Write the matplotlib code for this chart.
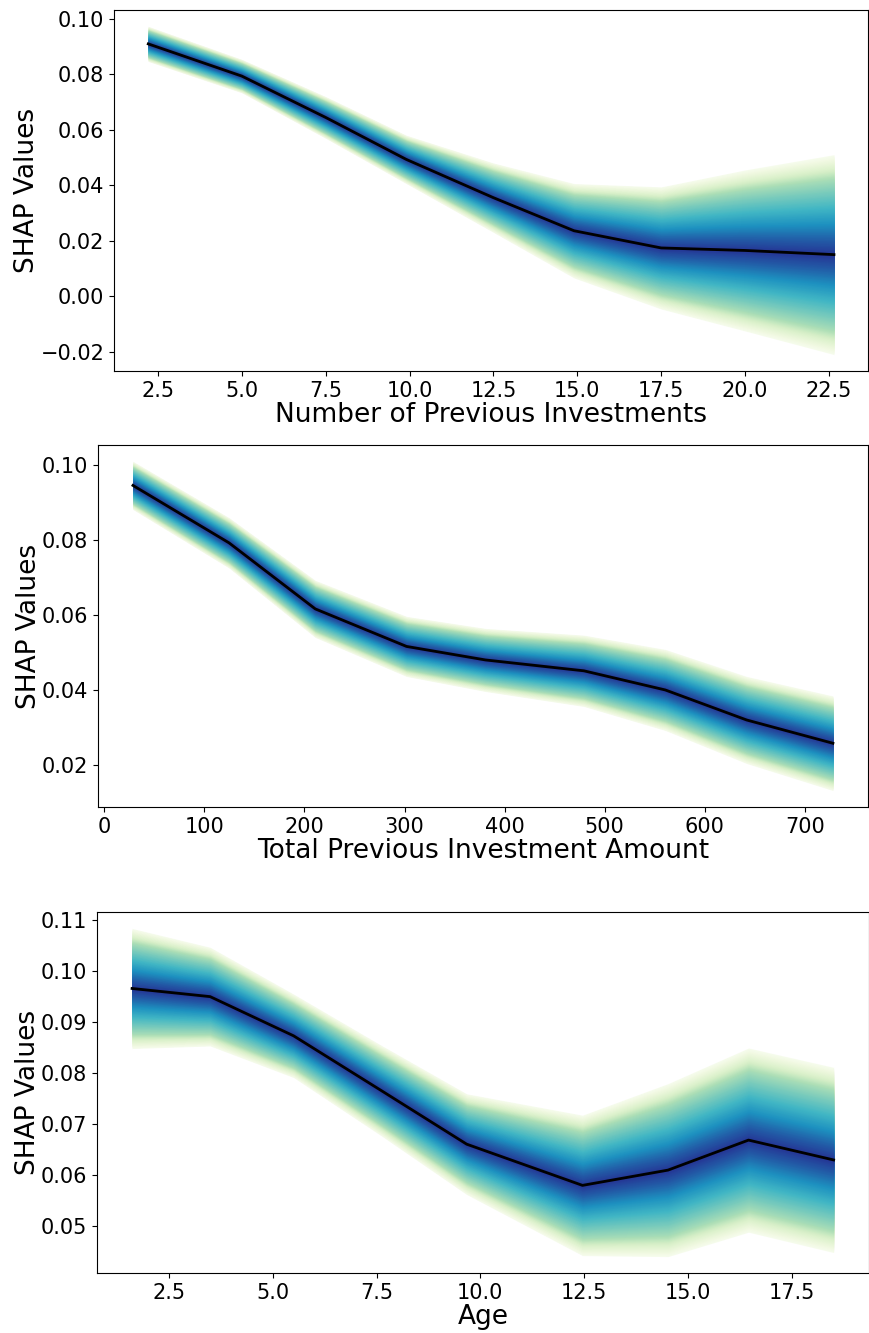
import matplotlib
matplotlib.use("Agg")
import matplotlib.pyplot as plt
import numpy as np

# ── Data ──────────────────────────────────────────────────────────────────────

n_invest_x = [2.21, 5.0, 7.5, 9.9, 12.5, 14.9, 17.5, 20.0, 22.65]
n_invest_y = [0.0909, 0.0793, 0.0644, 0.0493, 0.0355, 0.0236, 0.0174, 0.0165, 0.0150]
n_invest_w = [0.0063, 0.0060, 0.0075, 0.0087, 0.0125, 0.0170, 0.0220, 0.0290, 0.0360]

amount_x = [28.6, 124.6, 210.8, 302.0, 380.8, 479.3, 560.6, 641.9, 728.1]
amount_y = [0.0945, 0.0792, 0.0616, 0.0516, 0.0480, 0.0451, 0.0400, 0.0320, 0.0258]
amount_w = [0.0064, 0.0067, 0.0076, 0.0080, 0.0084, 0.0095, 0.0108, 0.0116, 0.0126]

age_x = [1.61, 3.49, 5.50, 7.62, 9.67, 12.46, 14.52, 16.46, 18.51]
age_y = [0.0966, 0.0950, 0.0873, 0.0765, 0.0660, 0.0579, 0.0609, 0.0668, 0.0629]
age_w = [0.0118, 0.0097, 0.0082, 0.0089, 0.0099, 0.0138, 0.0170, 0.0181, 0.0182]

x_labels = ["Number of Previous Investments", "Total Previous Investment Amount", "Age"]

plt.rcParams.update({
    "xtick.labelsize": 15,
    "ytick.labelsize": 15,
    "axes.labelsize": 19,
})

CMAP = plt.cm.YlGnBu
N_LAYERS = 80


def layer_color(t):
    """t = 0 at band edge, 1 at the mean line."""
    rgb = np.array(CMAP(0.18 + 0.70 * t ** 1.2)[:3])
    a = min(1.0, 0.25 + t / 0.3)
    return tuple((1 - a) * np.ones(3) + a * rgb)


def shap_band(ax, x, y, w, xlabel):
    x = np.asarray(x)
    y = np.asarray(y)
    w = np.asarray(w)
    # layered fills: wide & pale outside, narrow & dark near the mean
    for i in range(N_LAYERS):
        t = i / N_LAYERS
        k = 1 - t
        ax.fill_between(x, y - k * w, y + k * w, color=layer_color(t), linewidth=0)
    ax.plot(x, y, color="black", linewidth=2)
    ax.set_xlabel(xlabel, labelpad=1)
    ax.set_ylabel("SHAP Values", labelpad=0)


fig = plt.figure(figsize=(8.7, 13.33), dpi=100)
ax1 = fig.add_axes([0.131, 0.7217, 0.867, 0.2708])
ax2 = fig.add_axes([0.1126, 0.3946, 0.885, 0.2716])
ax3 = fig.add_axes([0.1115, 0.0450, 0.887, 0.2708])

shap_band(ax1, n_invest_x, n_invest_y, n_invest_w, x_labels[0])
shap_band(ax2, amount_x, amount_y, amount_w, x_labels[1])
shap_band(ax3, age_x, age_y, age_w, x_labels[2])

ax1.set_yticks([-0.02, 0.0, 0.02, 0.04, 0.06, 0.08, 0.10])
ax2.set_yticks([0.02, 0.04, 0.06, 0.08, 0.10])

fig.savefig("out.png", dpi=100)
plt.close(fig)
